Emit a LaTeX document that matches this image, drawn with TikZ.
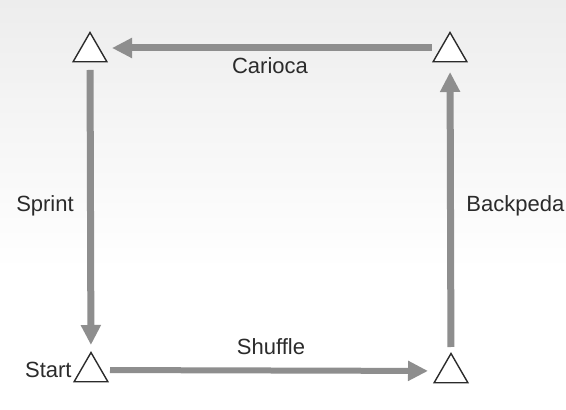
\documentclass[tikz,border=0pt]{standalone}
\usepackage{fontspec}
\setmainfont{Liberation Sans}
\definecolor{lane}{HTML}{8E8E8E}
\definecolor{haze}{HTML}{EDEDED}
\definecolor{ink}{HTML}{2B2B2B}
\usetikzlibrary{positioning, shapes.geometric, arrows.meta}

\begin{document}
\begin{tikzpicture}[x=0.5pt, y=-0.5pt,
  cone/.style={draw=ink, fill=white, regular polygon, regular polygon sides=3,
    minimum size=19.5pt, inner sep=0pt, line width=0.7pt},
  run/.style={draw=lane, line width=3.5pt, -{Triangle[length=10pt, width=9.5pt]}},
  lbl/.style={text=ink, font=\fontsize{11}{13}\selectfont}]
  \useasboundingbox (0,0) rectangle (566,410);
  \fill[white] (0,0) rectangle (566,410);
  \shade[top color=haze, bottom color=white] (0,0) rectangle (566,270);

  \node[cone] (tl) at (90,52) {};
  \node[cone] (tr) at (450,52) {};
  \node[cone] (st) at (91,372) {};
  \node[cone] (br) at (451,373) {};

  \draw[run, shorten <=9pt, shorten >=11pt] ([yshift=2pt]tr.center) -- ([yshift=2pt]tl.center);
  \draw[run, shorten <=9pt, shorten >=13.5pt] (tl.center) -- (st.center);
  \draw[run, line width=3pt, shorten <=9.5pt, shorten >=11.5pt] ([yshift=1pt]st.center) -- ([yshift=1pt]br.center);
  \draw[run, shorten <=13pt, shorten >=10pt] (br.center) -- (tr.center);

  \node[lbl] (carioca) at (270,66) {Carioca};
  \node[lbl] (sprint) at (45,206) {Sprint};
  \node[lbl] (shuffle) at (271,347) {Shuffle};
  \node[lbl, anchor=west, inner sep=0pt] (backpedal) at (466,206) {Backpeda};
  \node[lbl, anchor=east, inner sep=0pt] (start) at (72,370) {Start};
\end{tikzpicture}
\end{document}
